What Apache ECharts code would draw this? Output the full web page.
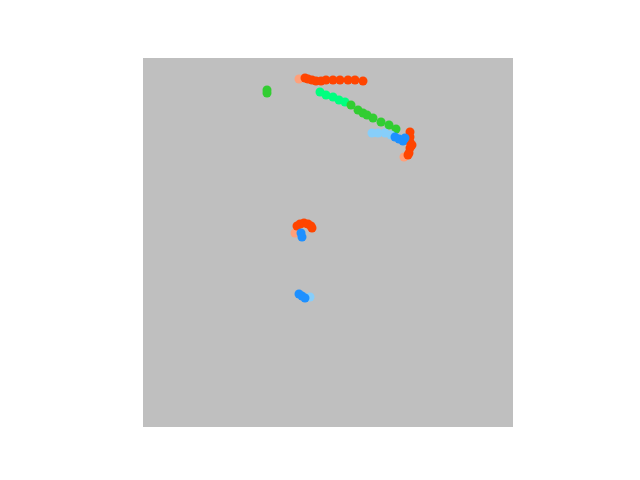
<!DOCTYPE html>
<html>
<head>
<meta charset="utf-8">
<script src="https://cdn.jsdelivr.net/npm/echarts@6/dist/echarts.min.js"></script>
<style>html,body{margin:0;padding:0;background:#fff;}#c{width:640px;height:480px;}</style>
</head>
<body>
<div id="c"></div>
<script>
// Data (x right, y up; plot spans 0..370 x 0..369)
const salmonPts = [[156,348],[152,194],[261,270]];
const orangePts = [[162,349],[165,348],[169,347],[173,346],[178,346],[183,347],[190,347],[197,347],[205,347],[212,347],[220,346],
  [154,201],[157,203],[161,204],[165,203],[168,201],[169,199],
  [267,295],[267,290],[267,285],[269,282],[267,279],[266,274],[265,272]];
const springPts = [[177,335],[183,332],[190,330],[196,327],[202,325]];
const limePts = [[124,337],[124,334],[208,322],[215,317],[220,314],[224,312],[230,309],[238,305],[246,302],[253,298]];
const skyPts = [[229,294],[235,294],[242,294],[248,292],[167,130]];
const dodgerPts = [[252,290],[256,288],[260,286],[262,289],
  [158,194],[159,190],
  [156,133],[159,131],[162,129]];

const seriesDefs = [
  ['salmon', '#FFA07A', salmonPts],
  ['orange', '#FF4500', orangePts],
  ['spring', '#00FF7F', springPts],
  ['lime', '#32CD32', limePts],
  ['sky', '#87CEFA', skyPts],
  ['dodger', '#1E90FF', dodgerPts]
];

const chart = echarts.init(document.getElementById('c'));
const hiddenAxis = (max) => ({
  type: 'value', min: 0, max: max,
  axisLine: {show: false}, axisTick: {show: false},
  axisLabel: {show: false}, splitLine: {show: false}
});
chart.setOption({
  animation: false,
  backgroundColor: '#ffffff',
  grid: {left: 143, top: 58, width: 370, height: 369, show: true,
         backgroundColor: '#BFBFBF', borderWidth: 0},
  xAxis: hiddenAxis(370),
  yAxis: hiddenAxis(369),
  series: seriesDefs.map(([n, c, d]) => ({
    name: n, type: 'scatter', data: d, symbolSize: 9,
    itemStyle: {color: c, opacity: 1}
  }))
});
</script>
</body>
</html>
